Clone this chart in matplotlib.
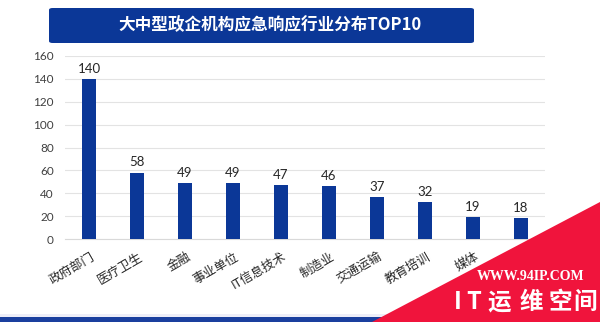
import matplotlib
matplotlib.use("Agg")
import matplotlib.pyplot as plt
from matplotlib.patches import FancyBboxPatch, Polygon, Rectangle

# Industry distribution of emergency response cases (large government / enterprise orgs)
categories = ["政府部门", "医疗卫生", "金融", "事业单位", "IT信息技术",
              "制造业", "交通运输", "教育培训", "媒体", "能源"]
counts = [140, 58, 49, 49, 47, 46, 37, 32, 19, 18]
y_ticks = [0, 20, 40, 60, 80, 100, 120, 140, 160]
title = "大中型政企机构应急响应行业分布TOP10"

BLUE = "#0b3797"
RED = "#f0143c"
CJK = ["Noto Sans CJK SC", "DejaVu Sans"]
NUM = ["Lato", "Noto Sans CJK SC"]

W, H = 600, 322
fig = plt.figure(figsize=(W / 100, H / 100), dpi=100)
fig.patch.set_facecolor("white")

ax = fig.add_axes([65 / W, 1 - 239 / H, 480 / W, 183 / H])
x = list(range(len(categories)))
bars = ax.bar(x, counts, width=0.31, color=BLUE, zorder=3)
ax.set_xlim(-0.5, len(categories) - 0.5)
ax.set_ylim(y_ticks[0], y_ticks[-1])
ax.set_yticks(y_ticks)
ax.set_yticklabels([str(v) for v in y_ticks], family=NUM, fontsize=8.5, color="#404040")
ax.yaxis.grid(True, color="#e3e3e3", linewidth=0.8, zorder=0)
ax.tick_params(axis="y", length=0, pad=8)
for s in ["top", "right", "left"]:
    ax.spines[s].set_visible(False)
ax.spines["bottom"].set_color("#d9d9d9")
ax.spines["bottom"].set_linewidth(0.8)

# Category labels, rotated, with their upper-right corner under each bar
ax.set_xticks(x)
ax.set_xticklabels([])
ax.tick_params(axis="x", length=0)
for xi, name in zip(x, categories):
    ax.annotate(name, (xi, 0), xycoords=("data", "axes fraction"),
                xytext=(1, -8), textcoords="offset points",
                rotation=30, rotation_mode="anchor", ha="right", va="top",
                family=CJK, fontsize=9, color="#262626", zorder=2)

for rect, v in zip(bars, counts):
    ax.annotate(str(v), (rect.get_x() + rect.get_width() / 2, v),
                xytext=(0, 3), textcoords="offset points",
                ha="center", va="bottom", family=NUM, fontsize=9.5, color="#262626")

# Title banner
banner = FancyBboxPatch((49 / W, 1 - 43 / H), 425 / W, 35 / H,
                        boxstyle="round,pad=0,rounding_size=0.006",
                        transform=fig.transFigure, facecolor=BLUE,
                        edgecolor="none", zorder=5)
fig.patches.append(banner)
fig.text(270 / W, 1 - 25 / H, title, ha="center", va="center", color="white",
         family=CJK, fontsize=12, fontweight="bold", zorder=6)

# Footer band
fig.patches.append(Rectangle((0, 0), 1, 5 / H, transform=fig.transFigure,
                             facecolor="#1a3f9e", edgecolor="none", zorder=5))
fig.patches.append(Rectangle((0, 5 / H), 1, 3 / H, transform=fig.transFigure,
                             facecolor="#eeeef8", edgecolor="none", zorder=4))

# Corner badge
fig.patches.append(Polygon([(1, 1 - 202 / H), (1, 0), (372 / W, 0)], closed=True,
                           transform=fig.transFigure, facecolor=RED,
                           edgecolor="none", zorder=7))
fig.text(531 / W, 1 - 277 / H, "WWW.94IP.COM", ha="center", va="center",
         color="white", family=["Liberation Serif"], fontsize=10, fontweight="bold", zorder=8)
badge = "IT运维空间"
badge_x = [458, 474, 499, 531, 560, 585]
for px, ch in zip(badge_x, badge):
    fig.text(px / W, 1 - 302 / H, ch, ha="center", va="center",
             color="white", family=CJK, fontsize=17, fontweight="bold", zorder=8)

fig.savefig("out.png", dpi=100, facecolor="white")
